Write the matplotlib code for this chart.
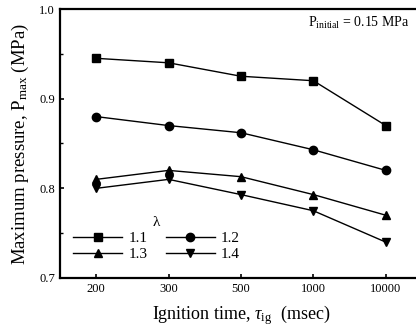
import numpy as np
import matplotlib
matplotlib.use("Agg")
import matplotlib.pyplot as plt
from matplotlib.ticker import MultipleLocator, FormatStrFormatter

plt.rcParams["font.family"] = ["Liberation Serif", "DejaVu Serif"]
plt.rcParams["mathtext.fontset"] = "custom"
plt.rcParams["mathtext.rm"] = "Liberation Serif"
plt.rcParams["mathtext.it"] = "Liberation Serif:italic"

# data
ignition_labels = ["200", "300", "500", "1000", "10000"]
lambda_labels = ["1.1", "1.2", "1.3", "1.4"]
p_11 = [0.945, 0.940, 0.925, 0.920, 0.870]
p_12 = [0.880, 0.870, 0.862, 0.843, 0.820]
p_13 = [0.810, 0.820, 0.813, 0.793, 0.770]
p_14 = [0.800, 0.810, 0.793, 0.775, 0.740]
markers = ["s", "o", "^", "v"]

fig = plt.figure(figsize=(4.16, 3.27), dpi=100)
ax = fig.add_axes([60/416, 49/327, 362/416, 269/327])

x = np.arange(len(ignition_labels))
lines = []
for series, lab, mk in zip([p_11, p_12, p_13, p_14], lambda_labels, markers):
    ln, = ax.plot(x, series, color="black", lw=1.0, marker=mk, markersize=6, label=lab)
    lines.append(ln)

ax.set_xlim(-0.5, 4.5)
ax.set_ylim(0.7, 1.0)
ax.set_xticks(x)
ax.set_xticklabels(ignition_labels)
ax.yaxis.set_major_locator(MultipleLocator(0.1))
ax.yaxis.set_minor_locator(MultipleLocator(0.05))
ax.yaxis.set_major_formatter(FormatStrFormatter("%.1f"))
ax.tick_params(direction="in", length=3, width=1.2, labelsize=9)
ax.tick_params(which="minor", direction="in", length=2, width=1.0)
for s in ax.spines.values():
    s.set_linewidth(1.6)

ax.set_xlabel(r"Ignition time, $\tau_{\rm ig}$  (msec)", fontsize=13, labelpad=6)
ax.set_ylabel(r"Maximum pressure, P$_{\rm max}$ (MPa)", fontsize=13.5, labelpad=6)

ax.text(0.965, 0.95, r"P$_{\rm initial}$ = 0.15 MPa", transform=ax.transAxes,
        ha="right", va="center", fontsize=10)

# row-wise order: 1.1 1.2 / 1.3 1.4
order = [0, 2, 1, 3]
leg = ax.legend([lines[i] for i in order], [lambda_labels[i] for i in order],
                ncol=2, loc="lower left", bbox_to_anchor=(0.02, 0.04), frameon=False,
                title="λ", fontsize=11, handlelength=3.2, columnspacing=1.2,
                labelspacing=0.15, handletextpad=0.4, borderaxespad=0)
leg.get_title().set_fontsize(11)

fig.savefig("out.png", dpi=100)
